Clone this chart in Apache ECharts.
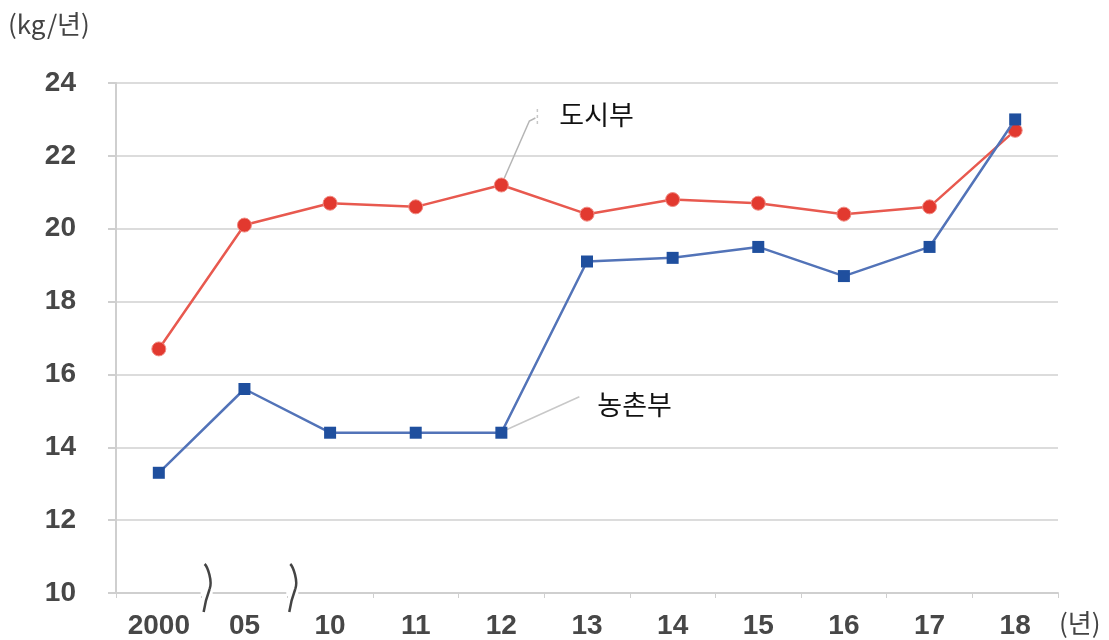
<!DOCTYPE html>
<html>
<head>
<meta charset="utf-8">
<script src="https://cdn.jsdelivr.net/npm/echarts@6/dist/echarts.min.js"></script>
<style>
  html, body { margin: 0; padding: 0; background: #fff; }
  #chart { width: 1109px; height: 640px; }
</style>
</head>
<body>
<div id="chart"></div>
<script>
// Per-capita consumption (kg/year), urban vs rural
const years = ['2000', '05', '10', '11', '12', '13', '14', '15', '16', '17', '18'];
const urban = [16.7, 20.1, 20.7, 20.6, 21.2, 20.4, 20.8, 20.7, 20.4, 20.6, 22.7];
const rural = [13.3, 15.6, 14.4, 14.4, 14.4, 19.1, 19.2, 19.5, 18.7, 19.5, 23.0];
const urbanName = '도시부';
const ruralName = '농촌부';
const yTicks = { min: 10, max: 24, step: 2 };

const chart = echarts.init(document.getElementById('chart'));
const numFont = '"Liberation Sans", Arial, sans-serif';
const krFont = '"Noto Sans CJK KR", "Noto Sans", sans-serif';

chart.setOption({
  animation: false,
  backgroundColor: '#fff',
  grid: { left: 116, right: 51, top: 83, bottom: 46 },
  xAxis: {
    type: 'category',
    data: years,
    boundaryGap: true,
    axisLine: { show: true, lineStyle: { color: '#cfcfcf', width: 2 } },
    axisTick: { show: true, length: 5, lineStyle: { color: '#cfcfcf', width: 1 } },
    axisLabel: { color: '#474747', fontSize: 28, fontWeight: 'bold', fontFamily: numFont, margin: 19 },
    name: '(년)',
    nameLocation: 'end',
    nameGap: 1,
    nameTextStyle: { color: '#444', fontSize: 26, fontFamily: krFont, verticalAlign: 'top', padding: [17, 0, 0, 0] }
  },
  yAxis: {
    type: 'value',
    min: yTicks.min,
    max: yTicks.max,
    interval: yTicks.step,
    axisLine: { show: true, lineStyle: { color: '#cfcfcf', width: 2 } },
    axisTick: { show: true, length: 8, lineStyle: { color: '#cfcfcf', width: 2 } },
    splitLine: { show: true, lineStyle: { color: '#dcdcdc', width: 2 } },
    axisLabel: { color: '#474747', fontSize: 28, fontWeight: 'bold', fontFamily: numFont, margin: 40 },
    name: '(kg/년)',
    nameLocation: 'end',
    nameGap: 46,
    nameTextStyle: { color: '#444', fontSize: 26, fontFamily: krFont, align: 'left', padding: [0, 0, 0, -108] }
  },
  series: [
    {
      name: urbanName,
      type: 'line',
      data: urban,
      symbol: 'circle',
      symbolSize: 14,
      lineStyle: { color: '#e8594f', width: 2.5 },
      itemStyle: { color: '#e2392f', borderColor: '#f08a82', borderWidth: 1 },
      z: 3
    },
    {
      name: ruralName,
      type: 'line',
      data: rural,
      symbol: 'rect',
      symbolSize: 12,
      lineStyle: { color: '#5273b8', width: 2.5 },
      itemStyle: { color: '#1f4f9e' },
      z: 4
    }
  ]
});

// Annotations: series names with leader lines, and axis-break marks
function px(i, v) { return chart.convertToPixel({ xAxisIndex: 0, yAxisIndex: 0 }, [i, v]); }
const graphics = [];

const pU = px(4, urban[4]);
graphics.push({
  type: 'polyline', silent: true,
  shape: { points: [[pU[0] + 3, pU[1] - 7], [pU[0] + 28, pU[1] - 64], [pU[0] + 34, pU[1] - 67]] },
  style: { stroke: '#b5b5b5', lineWidth: 1.5, fill: null }
});
graphics.push({
  type: 'line', silent: true,
  shape: { x1: pU[0] + 36, y1: pU[1] - 76, x2: pU[0] + 36, y2: pU[1] - 60 },
  style: { stroke: '#c8c8c8', lineWidth: 1.5, lineDash: [3, 3] }
});
graphics.push({
  type: 'text', silent: true,
  x: pU[0] + 58, y: pU[1] - 70,
  style: { text: urbanName, fontSize: 27, fontFamily: krFont, fill: '#111', verticalAlign: 'middle' }
});

const pR = px(4, rural[4]);
graphics.push({
  type: 'line', silent: true,
  shape: { x1: pR[0] + 5, y1: pR[1] - 3, x2: pR[0] + 78, y2: pR[1] - 36 },
  style: { stroke: '#c8c8c8', lineWidth: 1.5 }
});
graphics.push({
  type: 'text', silent: true,
  x: pR[0] + 96, y: pR[1] - 28,
  style: { text: ruralName, fontSize: 27, fontFamily: krFont, fill: '#111', verticalAlign: 'middle' }
});

// Squiggle break marks between non-consecutive years
[[0, 1], [1, 2]].forEach(([a, b]) => {
  const p0 = px(a, yTicks.min), p1 = px(b, yTicks.min);
  const x = (p0[0] + p1[0]) / 2 + 5, y = p0[1];
  graphics.push({
    type: 'rect', silent: true, z: 10,
    shape: { x: x - 6, y: y - 3, width: 12, height: 6 },
    style: { fill: '#fff' }
  });
  graphics.push({
    type: 'bezierCurve', silent: true, z: 11,
    shape: { x1: x - 2, y1: y - 29, cpx1: x + 1, cpy1: y - 26, cpx2: x + 6, cpy2: y - 12, x2: x + 3, y2: y - 4 },
    style: { stroke: '#444', lineWidth: 2.5, fill: null }
  });
  graphics.push({
    type: 'bezierCurve', silent: true, z: 11,
    shape: { x1: x + 3, y1: y - 4, cpx1: x, cpy1: y + 4, cpx2: x - 2, cpy2: y + 12, x2: x - 3, y2: y + 19 },
    style: { stroke: '#444', lineWidth: 2.5, fill: null }
  });
});

chart.setOption({ graphic: graphics });
</script>
</body>
</html>
